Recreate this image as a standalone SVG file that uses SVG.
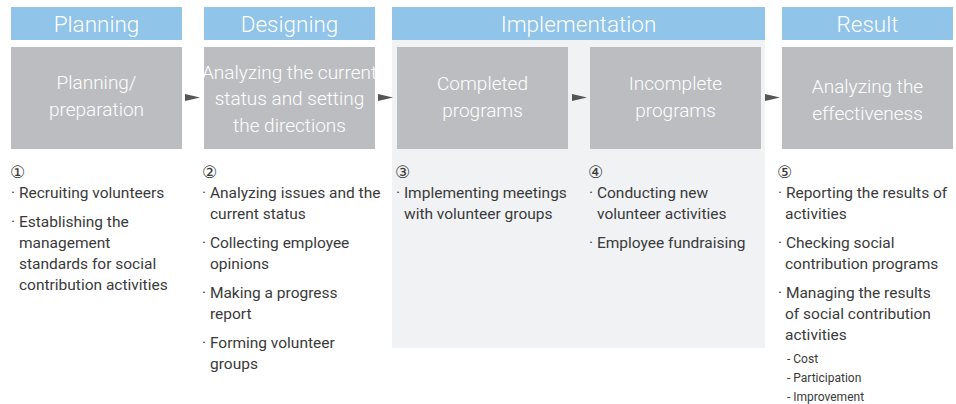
<svg xmlns="http://www.w3.org/2000/svg" width="956" height="404" viewBox="0 0 956 404">
<style>
.hdr{fill:#90c4e9}
.box{fill:#bcbdc0}
.ht{font-family:Roboto,"Liberation Sans",sans-serif;font-weight:300;font-size:22.5px;fill:#fff;text-anchor:middle}
.bt{font-family:Roboto,"Liberation Sans",sans-serif;font-weight:300;font-size:19px;fill:#fff;text-anchor:middle}
.tx{font-family:Roboto,"Liberation Sans",sans-serif;font-size:15.5px;fill:#3a3a3a}
.sm{font-family:Roboto,"Liberation Sans",sans-serif;font-size:12px;fill:#3a3a3a}
.num{font-family:"DejaVu Sans","Noto Sans CJK KR",sans-serif;font-size:17px;fill:#3a3a3a}
.arr{fill:#555}
</style>
<rect x="392" y="40" width="373" height="308" fill="#f1f2f4"/>
<g id="header-planning"><rect class="hdr" x="11" y="7" width="171" height="33"/><text class="ht" x="96.5" y="32">Planning</text></g>
<g id="header-designing"><rect class="hdr" x="204" y="7" width="171" height="33"/><text class="ht" x="289.5" y="32">Designing</text></g>
<g id="header-implementation"><rect class="hdr" x="392" y="7" width="373" height="33"/><text class="ht" x="578.5" y="32">Implementation</text></g>
<g id="header-result"><rect class="hdr" x="782" y="7" width="171" height="33"/><text class="ht" x="867.5" y="32">Result</text></g>
<g id="node-planning"><rect class="box" x="11" y="47" width="171" height="102"/><text class="bt" x="96.5" y="89">Planning/</text><text class="bt" x="96.5" y="116">preparation</text></g>
<g id="node-designing"><rect class="box" x="204" y="47" width="171" height="102"/><text class="bt" x="289.5" y="79">Analyzing the current</text><text class="bt" x="289.5" y="105">status and setting</text><text class="bt" x="289.5" y="132">the directions</text></g>
<g id="node-completed"><rect class="box" x="397" y="47" width="171" height="102"/><text class="bt" x="482.5" y="90">Completed</text><text class="bt" x="482.5" y="117">programs</text></g>
<g id="node-incomplete"><rect class="box" x="590" y="47" width="171" height="102"/><text class="bt" x="675.5" y="90">Incomplete</text><text class="bt" x="675.5" y="117">programs</text></g>
<g id="node-result"><rect class="box" x="782" y="47" width="171" height="102"/><text class="bt" x="867.5" y="93">Analyzing the</text><text class="bt" x="867.5" y="120">effectiveness</text></g>
<g id="connectors">
<polygon class="arr" points="185,94 200,97.5 185,101"/>
<polygon class="arr" points="378,94 393,97.5 378,101"/>
<polygon class="arr" points="572,94 587,97.5 572,101"/>
<polygon class="arr" points="765,94 780,97.5 765,101"/>
</g>
<g id="list-1">
<text class="num" x="10" y="178">①</text>
<text class="tx" x="11" y="198">· Recruiting volunteers</text>
<text class="tx" x="11" y="227">· Establishing the</text>
<text class="tx" x="19" y="248">management</text>
<text class="tx" x="19" y="269">standards for social</text>
<text class="tx" x="19" y="290">contribution activities</text>
</g>
<g id="list-2">
<text class="num" x="202" y="178">②</text>
<text class="tx" x="202" y="198">· Analyzing issues and the</text>
<text class="tx" x="210" y="219">current status</text>
<text class="tx" x="202" y="248">· Collecting employee</text>
<text class="tx" x="210" y="269">opinions</text>
<text class="tx" x="202" y="298">· Making a progress</text>
<text class="tx" x="210" y="319">report</text>
<text class="tx" x="202" y="348">· Forming volunteer</text>
<text class="tx" x="210" y="369">groups</text>
</g>
<g id="list-3">
<text class="num" x="395" y="178">③</text>
<text class="tx" x="396" y="198">· Implementing meetings</text>
<text class="tx" x="404" y="219">with volunteer groups</text>
</g>
<g id="list-4">
<text class="num" x="588" y="178">④</text>
<text class="tx" x="589" y="198">· Conducting new</text>
<text class="tx" x="597" y="219">volunteer activities</text>
<text class="tx" x="589" y="248">· Employee fundraising</text>
</g>
<g id="list-5">
<text class="num" x="777" y="178">⑤</text>
<text class="tx" x="778" y="198">· Reporting the results of</text>
<text class="tx" x="785" y="219">activities</text>
<text class="tx" x="778" y="248">· Checking social</text>
<text class="tx" x="785" y="269">contribution programs</text>
<text class="tx" x="778" y="298">· Managing the results</text>
<text class="tx" x="785" y="319">of social contribution</text>
<text class="tx" x="785" y="340">activities</text>
<text class="sm" x="787" y="363">- Cost</text>
<text class="sm" x="787" y="382">- Participation</text>
<text class="sm" x="787" y="401">- Improvement</text>
</g>
</svg>
